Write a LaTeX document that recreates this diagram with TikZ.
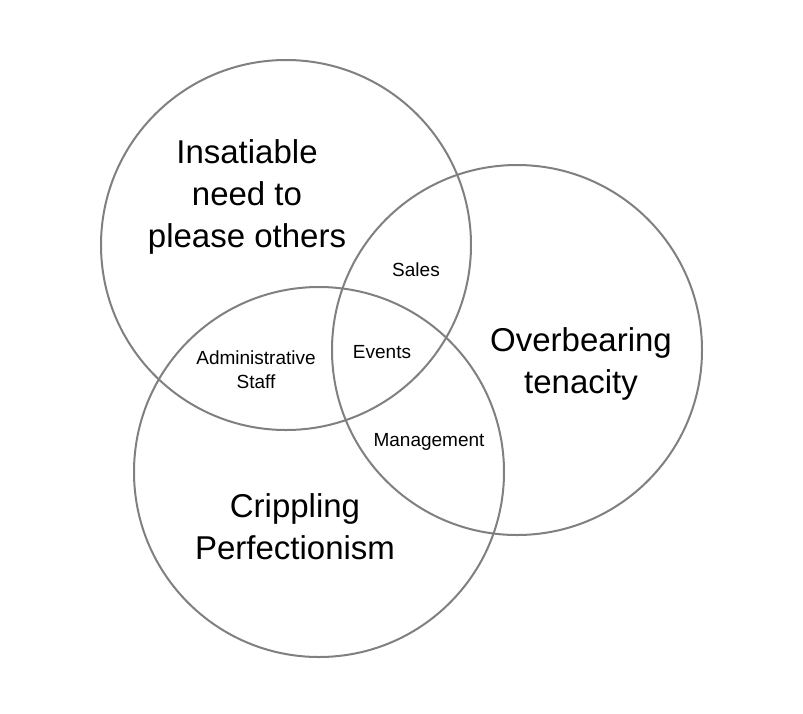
\documentclass[tikz,border=0pt]{standalone}
\usepackage{fontspec}
\setmainfont{Liberation Sans}
\begin{document}
\begin{tikzpicture}[x=1pt,y=-1pt,
  venn/.style={draw=black!50,line width=2pt},
  big/.style={align=center,font=\fontsize{33}{42}\selectfont},
  small/.style={align=center,font=\fontsize{19}{24}\selectfont}]
\useasboundingbox[fill=white] (0,0) rectangle (803,713);
\draw[venn] (286,245) circle (185);
\draw[venn] (517,350) circle (185);
\draw[venn] (319,472) circle (185);
\node[big] (a) at (247,197) {Insatiable\\need to\\please others};
\node[big] (b) at (581,364) {Overbearing\\tenacity};
\node[big] (c) at (295,527) {Crippling\\Perfectionism};
\node[small] (s) at (416,270) {Sales};
\node[small] (e) at (382,352) {Events};
\node[small] (d) at (256,370) {Administrative\\Staff};
\node[small] (m) at (429,442) {Management};
\end{tikzpicture}
\end{document}
